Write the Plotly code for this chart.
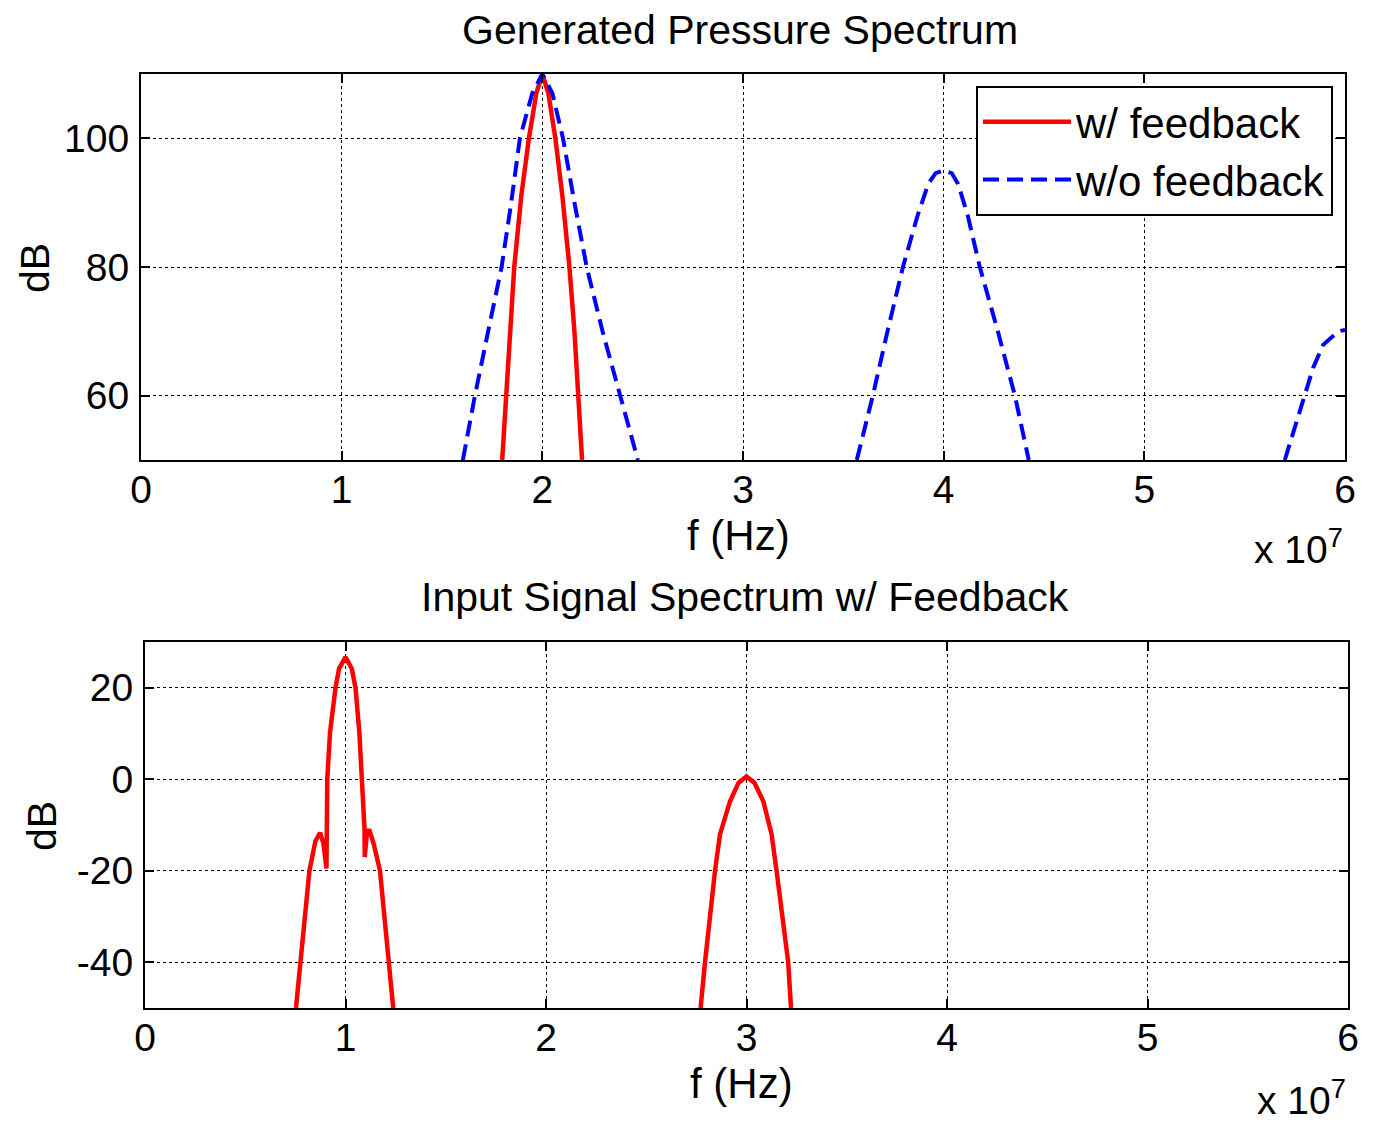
import plotly.graph_objects as go

# Frequencies are in units of 10^7 Hz; levels in dB.
# Generated pressure spectrum, with feedback
p_fb_f = [1.80, 1.82, 1.84, 1.86, 1.895, 1.933, 1.97, 2.00, 2.03, 2.065, 2.10, 2.135, 2.16, 2.18, 2.198]
p_fb_db = [50, 60, 70, 80, 91, 100, 107, 110, 107, 100, 91, 80, 70, 60, 50]

# Generated pressure spectrum, without feedback (three harmonics)
p_nofb_f = [1.604, 1.664, 1.73, 1.797, 1.845, 1.888, 1.95, 2.00, 2.05, 2.103, 2.16, 2.221, 2.30, 2.387, 2.476,
            None,
            3.567, 3.647, 3.72, 3.797, 3.87, 3.923, 3.96, 4.00, 4.04, 4.072, 4.12, 4.180, 4.27, 4.355, 4.424,
            None,
            5.700, 5.800, 5.841, 5.891, 5.966, 6.00]
p_nofb_db = [50, 60, 70, 80, 90, 100, 107, 110, 107, 100, 90, 80, 70, 60, 50,
             None,
             50, 60, 70, 80, 88, 92.9, 94.6, 95, 94.6, 92.9, 88, 80, 70, 60, 50,
             None,
             50, 60, 64.3, 67.9, 70, 70.2]

# Input signal spectrum with feedback
in_f = [0.753, 0.776, 0.820, 0.85, 0.873, 0.89, 0.905, 0.907, 0.909, 0.923, 0.95, 0.968, 1.00, 1.031, 1.05,
        1.069, 1.081, 1.095, 1.096, 1.105, 1.117, 1.14, 1.172, 1.213, 1.238,
        None,
        2.771, 2.793, 2.843, 2.868, 2.918, 2.96, 3.00, 3.04, 3.084, 3.125, 3.150, 3.208, 3.222]
in_db = [-50, -40, -20, -13.5, -11.7, -14, -19.5, -10, 0, 10.3, 20, 24.2, 26.7, 24.2, 20,
         10.3, 0, -11, -17, -12.5, -10.9, -14, -20, -40, -50,
         None,
         -50, -40, -20, -12, -4.8, -0.8, 0.6, -0.8, -4.8, -12, -20, -40, -50]

x_ticks = [0, 1, 2, 3, 4, 5, 6]
x_ticktext = ["0", "1", "2", "3", "4", "5", "6"]
top_yticks = [60, 80, 100]
top_yticktext = ["60", "80", "100"]
bot_yticks = [-40, -20, 0, 20]
bot_yticktext = ["-40", "-20", "0", "20"]

W, H = 1374, 1123
FONT = "Liberation Sans, Arial, sans-serif"
FS = 39

fig = go.Figure()
fig.add_trace(go.Scatter(x=p_fb_f, y=p_fb_db, mode="lines", name="w/ feedback",
                         line=dict(color="#ff0000", width=4.5), xaxis="x", yaxis="y"))
fig.add_trace(go.Scatter(x=p_nofb_f, y=p_nofb_db, mode="lines", name="w/o feedback",
                         line=dict(color="#0000ff", width=4, dash="16px,8px"), connectgaps=False,
                         xaxis="x", yaxis="y"))
fig.add_trace(go.Scatter(x=in_f, y=in_db, mode="lines", name="input", showlegend=False,
                         line=dict(color="#ff0000", width=4.5), connectgaps=False,
                         xaxis="x2", yaxis="y2"))

axis_common = dict(showline=True, linecolor="black", linewidth=2, mirror="ticks",
                   ticks="inside", ticklen=9, tickwidth=2, tickcolor="black",
                   showgrid=True, gridcolor="black", gridwidth=1, griddash="dot",
                   zeroline=False, automargin=False,
                   tickfont=dict(family=FONT, size=FS, color="black"))

fig.update_layout(
    width=W, height=H,
    margin=dict(l=0, r=0, t=0, b=0, autoexpand=False),
    paper_bgcolor="white", plot_bgcolor="white",
    font=dict(family=FONT, size=FS, color="black"),
    xaxis=dict(domain=[141 / W, 1345 / W], range=[0, 6], tickvals=x_ticks, ticktext=x_ticktext,
               anchor="y", ticklabelstandoff=-6, **axis_common),
    yaxis=dict(domain=[1 - 460 / H, 1 - 74 / H], range=[50, 110], tickvals=top_yticks,
               ticktext=top_yticktext, anchor="x", ticklabelstandoff=2, **axis_common),
    xaxis2=dict(domain=[145 / W, 1348 / W], range=[0, 6], tickvals=x_ticks, ticktext=x_ticktext,
                anchor="y2", ticklabelstandoff=-6, **axis_common),
    yaxis2=dict(domain=[1 - 1008 / H, 1 - 642 / H], range=[-50, 30], tickvals=bot_yticks,
                ticktext=bot_yticktext, anchor="x2", ticklabelstandoff=2, **axis_common),
    legend=dict(x=976 / W, y=1 - 86 / H, xanchor="left", yanchor="top",
                bgcolor="white", bordercolor="black", borderwidth=2, itemwidth=88,
                font=dict(family=FONT, size=42, color="black"), tracegroupgap=0),
    showlegend=True,
)

def label(text, x, y, angle=0, xanchor="center", size=FS):
    fig.add_annotation(text=text, x=x / W, y=1 - y / H, xref="paper", yref="paper",
                       showarrow=False, textangle=angle, xanchor=xanchor, yanchor="middle",
                       font=dict(family=FONT, size=size, color="black"))

label("Generated Pressure Spectrum", 740, 30, size=41)
label("f (Hz)", 738, 535, size=42)
label("dB", 35, 268, angle=-90, size=41)
label("x 10<sup>7</sup>", 1345, 547, xanchor="right")

label("Input Signal Spectrum w/ Feedback", 745, 597, size=41)
label("f (Hz)", 741, 1083, size=42)
label("dB", 42, 826, angle=-90, size=41)
label("x 10<sup>7</sup>", 1348, 1097, xanchor="right")

fig.write_html("out.html")
